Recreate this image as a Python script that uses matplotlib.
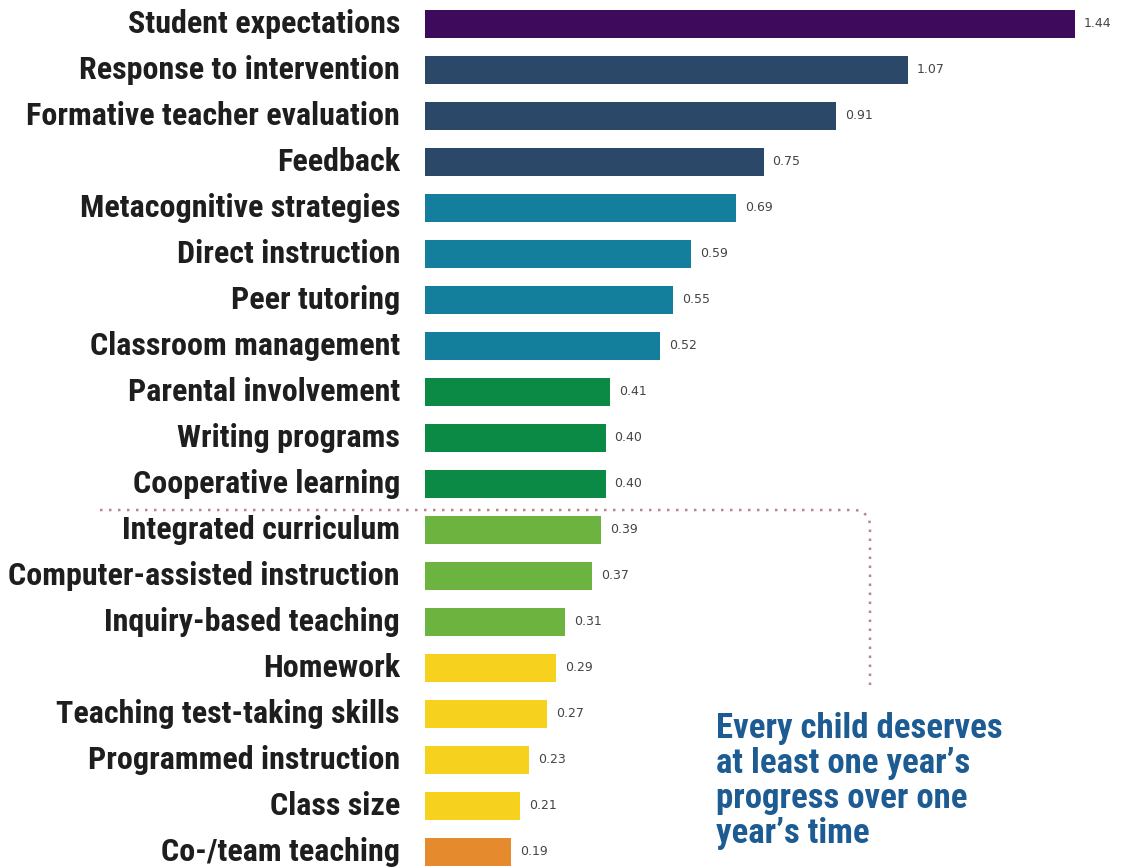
import numpy as np
import matplotlib
matplotlib.use("Agg")
import matplotlib.pyplot as plt
from matplotlib.lines import Line2D

# --- Data ---
categories = [
    "Student expectations", "Response to intervention", "Formative teacher evaluation",
    "Feedback", "Metacognitive strategies", "Direct instruction", "Peer tutoring",
    "Classroom management", "Parental involvement", "Writing programs",
    "Cooperative learning", "Integrated curriculum", "Computer-assisted instruction",
    "Inquiry-based teaching", "Homework", "Teaching test-taking skills",
    "Programmed instruction", "Class size", "Co-/team teaching",
]
effect_sizes = [1.44, 1.07, 0.91, 0.75, 0.69, 0.59, 0.55, 0.52, 0.41, 0.40,
                0.40, 0.39, 0.37, 0.31, 0.29, 0.27, 0.23, 0.21, 0.19]
value_labels = ["1.44", "1.07", "0.91", "0.75", "0.69", "0.59", "0.55", "0.52", "0.41", "0.40",
                "0.40", "0.39", "0.37", "0.31", "0.29", "0.27", "0.23", "0.21", "0.19"]
group_sizes = [1, 3, 4, 3, 3, 4, 1]
group_colors = ["#3e0a5c", "#2c4869", "#137f9c", "#0b8a45", "#6db33f", "#f6d21e", "#e68a2e"]

bar_colors = np.repeat(group_colors, group_sizes)

# --- Fonts ---
label_font = ["Roboto Condensed", "DejaVu Sans"]
W, H = 1124, 868

fig = plt.figure(figsize=(W / 100, H / 100), dpi=100)
fig.patch.set_facecolor("white")

# axes placed so bars start at ~425 px and 1.44 reaches ~1075 px
ax = fig.add_axes([425 / W, 0, (1075 - 425) / W, 1])
ypos = np.arange(len(categories))
ax.barh(ypos, effect_sizes, height=0.61, color=bar_colors, edgecolor="none")
ax.set_xlim(0, 1.44)
ax.set_ylim(18 + 16 / 46, -24 / 46)
ax.axis("off")

for y, v, lab, cat in zip(ypos, effect_sizes, value_labels, categories):
    ax.annotate(lab, (v, y), xytext=(6.5, 0), textcoords="offset points",
                ha="left", va="center", fontsize=9, color="#444444",
                family="DejaVu Sans")
    ax.annotate(cat, (0, y), xytext=(-18, 0), textcoords="offset points",
                ha="right", va="center", fontsize=23, fontweight="bold",
                color="#1e1e1e", family=label_font, annotation_clip=False)

# dotted separator line with a rounded corner going down
def px(x, y):
    return x / W, 1 - y / H

corner = [(855 + 15 * np.sin(t), 510 + 15 * (1 - np.cos(t))) for t in np.linspace(0, np.pi / 2, 6)]
pts = [(100, 510)] + corner + [(870, 690)]
xs, ys = zip(*[px(x, y) for x, y in pts])
fig.add_artist(Line2D(xs, ys, transform=fig.transFigure, color="#b98492",
                      linestyle=(0, (1, 2.6)), linewidth=1.8))

fig.text(716 / W, 1 - 712 / H,
         "Every child deserves\nat least one year\u2019s\nprogress over one\nyear\u2019s time",
         ha="left", va="top", fontsize=25, fontweight="bold", color="#1d5b93",
         family=label_font, linespacing=1.08)

fig.savefig("out.png", dpi=100, facecolor="white")
